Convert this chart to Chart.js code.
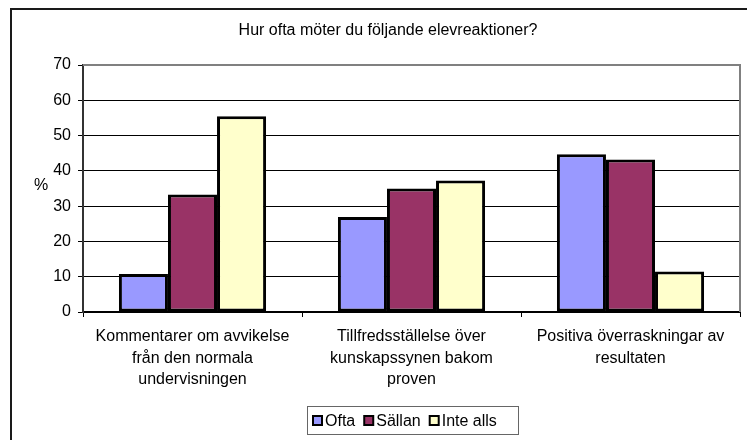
<!DOCTYPE html>
<html>
<head>
<meta charset="utf-8">
<script src="https://cdn.jsdelivr.net/npm/chart.js@4.4.1/dist/chart.umd.min.js"></script>
<style>
  html, body { margin: 0; padding: 0; background: #fff; }
  #wrap { width: 747px; height: 440px; position: relative; }
</style>
</head>
<body>
<div id="wrap"><canvas id="chart"></canvas></div>
<script>
const chartTitle = 'Hur ofta möter du följande elevreaktioner?';
const yAxisTitle = '%';
const categories = [
    ['Kommentarer om avvikelse', 'från den normala', 'undervisningen'],
    ['Tillfredsställelse över', 'kunskapssynen bakom', 'proven'],
    ['Positiva överraskningar av', 'resultaten']
];
const seriesNames = ['Ofta', 'Sällan', 'Inte alls'];
const ofta = [10.8, 26.9, 44.7];
const sallan = [33.3, 35.0, 43.2];
const inteAlls = [55.5, 37.3, 11.5];
const seriesColors = ['#9999FF', '#993366', '#FFFFCC'];
const yTicks = [0, 10, 20, 30, 40, 50, 60, 70];

const FONT = '"Liberation Sans", Arial, sans-serif';

// ram, titel, "%" och förklaring ritas för hand
const decorPlugin = {
    id: 'decor',
    beforeDraw(chart) {
        const ctx = chart.ctx;
        ctx.save();
        ctx.fillStyle = '#fff';
        ctx.fillRect(0, 0, chart.width, chart.height);
        ctx.restore();
    },
    afterDraw(chart) {
        const ctx = chart.ctx;
        const a = chart.chartArea;
        ctx.save();
        // yttre ram
        ctx.strokeStyle = '#1a1a1a';
        ctx.lineWidth = 2;
        ctx.strokeRect(11, 9, 800, 500);
        // diagramytans grå ram (topp och höger)
        ctx.strokeStyle = '#808080';
        ctx.lineWidth = 2;
        ctx.beginPath();
        ctx.moveTo(a.left, a.top);
        ctx.lineTo(a.right, a.top);
        ctx.lineTo(a.right, a.bottom);
        ctx.stroke();

        ctx.fillStyle = '#000';
        ctx.font = '16px ' + FONT;
        ctx.textAlign = 'center';
        ctx.textBaseline = 'middle';
        ctx.fillText(chartTitle, 388, 31);
        ctx.fillText(yAxisTitle, 41, 186);

        // förklaring
        const lx = 307, ly = 406, lw = 211, lh = 28;
        ctx.strokeStyle = '#666';
        ctx.lineWidth = 1;
        ctx.strokeRect(lx + 0.5, ly + 0.5, lw, lh);
        ctx.font = '16px ' + FONT;
        ctx.textAlign = 'left';
        let x = lx + 6;
        const cy = ly + lh / 2 + 0.5;
        chart.data.datasets.forEach((ds) => {
            ctx.fillStyle = ds.backgroundColor;
            ctx.fillRect(x, cy - 4.5, 9, 9);
            ctx.strokeStyle = '#000';
            ctx.lineWidth = 2;
            ctx.strokeRect(x, cy - 4.5, 9, 9);
            ctx.fillStyle = '#000';
            ctx.fillText(ds.label, x + 12, cy + 1);
            x += 12 + ctx.measureText(ds.label).width + 9;
        });
        ctx.restore();
    }
};

new Chart(document.getElementById('chart'), {
    type: 'bar',
    data: {
        labels: categories,
        datasets: [
            { label: seriesNames[0], data: ofta, backgroundColor: seriesColors[0] },
            { label: seriesNames[1], data: sallan, backgroundColor: seriesColors[1] },
            { label: seriesNames[2], data: inteAlls, backgroundColor: seriesColors[2] }
        ].map((ds) => ({ ...ds, borderColor: '#000', borderWidth: 3, borderSkipped: false }))
    },
    options: {
        responsive: true,
        maintainAspectRatio: false,
        animation: false,
        devicePixelRatio: 1,
        layout: { padding: { left: 0, right: 7, top: 65, bottom: 0 } },
        datasets: { bar: { categoryPercentage: 0.672, barPercentage: 1.0 } },
        plugins: {
            legend: { display: false },
            title: { display: false },
            tooltip: { enabled: false }
        },
        scales: {
            x: {
                offset: true,
                afterFit(scale) { scale.height = 128; },
                grid: {
                    offset: true,
                    drawOnChartArea: false,
                    drawTicks: true,
                    tickLength: 5,
                    color: '#000'
                },
                border: { display: true, color: '#000', width: 2 },
                ticks: {
                    color: '#000',
                    padding: 9,
                    maxRotation: 0,
                    autoSkip: false,
                    font: { family: FONT, size: 16, lineHeight: 1.34 }
                }
            },
            y: {
                min: 0,
                max: 70,
                afterFit(scale) { scale.width = 83; },
                afterBuildTicks(scale) { scale.ticks = yTicks.map((v) => ({ value: v })); },
                grid: {
                    color: '#000',
                    lineWidth: 1,
                    drawTicks: true,
                    tickLength: 5,
                    tickColor: '#000'
                },
                border: { display: true, color: '#333', width: 2 },
                ticks: {
                    color: '#000',
                    padding: 7,
                    font: { family: FONT, size: 16 }
                }
            }
        }
    },
    plugins: [decorPlugin]
});
</script>
</body>
</html>
